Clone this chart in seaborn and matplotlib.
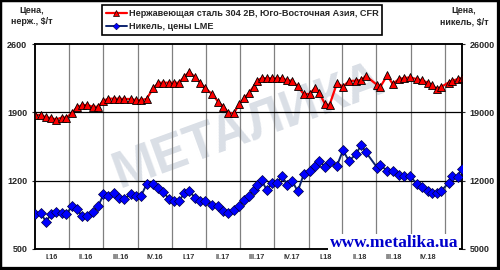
import numpy as np
import pandas as pd
import matplotlib
matplotlib.use('Agg')
import matplotlib.pyplot as plt
import seaborn as sns
from matplotlib.patches import Rectangle
from matplotlib.lines import Line2D

# ---- data ----
# days since 2016-01-01 for every observation
days = [1, 16, 29, 43, 57, 71, 84, 98, 112, 126, 140, 154, 169, 183, 196, 210,
        224, 239, 256, 270, 283, 298, 316, 330, 343, 358, 371, 385, 399, 412,
        428, 441, 455, 474, 489, 503, 517, 531, 546, 559, 572, 584, 594, 606,
        619, 633, 647, 660, 674, 687, 702, 718, 734, 747, 760, 775, 787, 807,
        823, 839, 857, 872, 884, 915, 923, 941, 956, 972, 986, 1002, 1020,
        1034, 1049, 1061, 1073, 1085, 1105, 1113, 1129, 1140]

steel = [1873, 1873, 1849, 1842, 1826, 1847, 1847, 1890, 1950, 1975, 1975, 1958,
         1958, 2019, 2040, 2040, 2040, 2037, 2037, 2026, 2026, 2037, 2146, 2204,
         2204, 2204, 2204, 2204, 2265, 2316, 2259, 2204, 2146, 2085, 2010, 1958,
         1895, 1890, 1985, 2045, 2100, 2163, 2226, 2250, 2249, 2249, 2249, 2249,
         2228, 2224, 2165, 2088, 2088, 2146, 2095, 1985, 1975, 2200, 2163, 2221,
         2224, 2231, 2273, 2178, 2163, 2278, 2190, 2240, 2252, 2257, 2241, 2228,
         2205, 2180, 2140, 2160, 2205, 2220, 2240, 2250]

nickel = [8570, 8720, 7770, 8570, 8840, 8690, 8550, 9370, 9100, 8340, 8400, 8770,
          9400, 10600, 10460, 10730, 10260, 10120, 10650, 10450, 10400, 11630,
          11630, 11300, 10840, 10120, 9930, 9900, 10750, 10940, 10230, 9930, 9880,
          9550, 9370, 8850, 8650, 9000, 9400, 9980, 10480, 11040, 11600, 12030,
          11040, 11730, 11730, 12500, 11550, 12000, 10900, 12650, 12950, 13500,
          13980, 13450, 13870, 13550, 15100, 14010, 14700, 15650, 14930, 13300,
          13570, 13030, 13020, 12600, 12460, 12460, 11700, 11350, 10900, 10700,
          10750, 10940, 11760, 12480, 12420, 13190]

quarter_labels = ['I.16', 'II.16', 'III.16', 'IV.16', 'I.17', 'II.17', 'III.17',
                  'IV.17', 'I.18', 'II.18', 'III.18', 'IV.18']
left_ticks = [500, 1200, 1900, 2600]
right_ticks = [5000, 12000, 19000, 26000]
steel_name = 'Нержавеющая сталь 304 2В, Юго-Восточная Азия, CFR'
nickel_name = 'Никель, цены LME'

# ---- figure ----
sns.set_style('white')
plt.rcParams['font.family'] = ['Liberation Sans', 'DejaVu Sans']

start = pd.Timestamp('2016-01-01')
df = pd.DataFrame({'date': start + pd.to_timedelta(days, unit='D'),
                   'steel': steel, 'nickel': nickel})

fig = plt.figure(figsize=(5, 2.7), dpi=100)
ax = fig.add_axes([35 / 500, 1 - 249 / 270, 427 / 500, 205 / 270])
ax2 = ax.twinx()

qb = pd.date_range('2016-01-01', '2019-01-01', freq='QS')
mids = [qb[i] + (qb[i + 1] - qb[i]) / 2 for i in range(len(qb) - 1)]

ax.set_xlim(start, start + pd.Timedelta(days=1141))
ax.set_ylim(left_ticks[0], left_ticks[-1])
ax2.set_ylim(right_ticks[0], right_ticks[-1])

# watermark
ax.text(0.5, 0.6, 'МЕТАЛИКА', transform=ax.transAxes, rotation=20,
        fontsize=37, fontweight='bold', color='#dadfe6', ha='center',
        va='center', zorder=0.5)

for d in qb[1:]:
    ax.axvline(d, color='#808080', lw=0.9, zorder=1)
for v in left_ticks[1:-1]:
    ax.axhline(v, color='black', lw=0.9, zorder=1)

sns.lineplot(data=df, x='date', y='steel', ax=ax, color='#ff0000', lw=1.6,
             marker='^', markersize=6, markerfacecolor='#ff0000',
             markeredgecolor='black', markeredgewidth=0.6, zorder=3,
             legend=False)
sns.lineplot(data=df, x='date', y='nickel', ax=ax2, color='#0d2470', lw=1.4,
             marker='D', markersize=5, markerfacecolor='#0000ff',
             markeredgecolor='#000040', markeredgewidth=0.5, zorder=3,
             legend=False)

ax.set_xlabel('')
ax.set_ylabel('')
ax2.set_ylabel('')

ax.set_xticks(list(qb))
ax.set_xticklabels([])
ax.set_xticks(mids, minor=True)
ax.set_xticklabels(quarter_labels, minor=True)
ax.tick_params(axis='x', which='both', length=0, pad=3.5, labelsize=5.3,
               labelcolor='#333333')
for lab in ax.get_xticklabels(minor=True):
    lab.set_fontweight('bold')

ax.set_yticks(left_ticks)
ax2.set_yticks(right_ticks)
ax.tick_params(axis='y', length=2.5, width=0.8, pad=3, labelsize=6.5,
               left=True, direction='out')
ax2.tick_params(axis='y', length=2.5, width=0.8, pad=3, labelsize=6.5,
                right=True, direction='out')
for lab in ax.get_yticklabels() + ax2.get_yticklabels():
    lab.set_fontweight('bold')

for a in (ax, ax2):
    for s in a.spines.values():
        s.set_color('black')
        s.set_linewidth(1.1)

# axis titles
fig.text(32 / 500, 1 - 6 / 270, 'Цена,\nнерж., $/т', ha='center', va='top',
         fontsize=6.5, fontweight='bold', linespacing=1.35)
fig.text(464 / 500, 1 - 6 / 270, 'Цена,\nникель, $/т', ha='center', va='top',
         fontsize=6.5, fontweight='bold', linespacing=1.35)

# site address
fig.text(458 / 500, 1 - 247 / 270, 'www.metalika.ua', ha='right',
         va='baseline', fontsize=12.5, fontweight='bold',
         family=['Liberation Serif', 'DejaVu Serif'], color='#0000cc',
         bbox=dict(facecolor='white', edgecolor='none', pad=1))

# legend
handles = [Line2D([0], [0], color='#ff0000', lw=1.6, marker='^', markersize=4.5,
                  markerfacecolor='#ff0000', markeredgecolor='black',
                  markeredgewidth=0.5),
           Line2D([0], [0], color='#0d2470', lw=1.4, marker='D', markersize=3.4,
                  markerfacecolor='#0000ff', markeredgecolor='#000040',
                  markeredgewidth=0.4)]
leg = fig.legend(handles, [steel_name, nickel_name], loc='upper left',
                 bbox_to_anchor=(102 / 500, 1 - 5 / 270), frameon=True,
                 fancybox=False, framealpha=1, edgecolor='black',
                 prop={'weight': 'bold', 'size': 6.55}, handlelength=2.3,
                 handletextpad=0.2, borderpad=0.42, labelspacing=0.5,
                 borderaxespad=0)
leg.get_frame().set_linewidth(1.2)

# outer border
fig.add_artist(Rectangle((0, 0), 1, 1, transform=fig.transFigure, fill=False,
                         edgecolor='black', lw=2.5))
fig.add_artist(Line2D([0, 1], [0, 0], transform=fig.transFigure,
                      color='black', lw=4.5))
fig.add_artist(Line2D([1, 1], [0, 1], transform=fig.transFigure,
                      color='black', lw=4.5))

fig.savefig('out.png', dpi=100)
